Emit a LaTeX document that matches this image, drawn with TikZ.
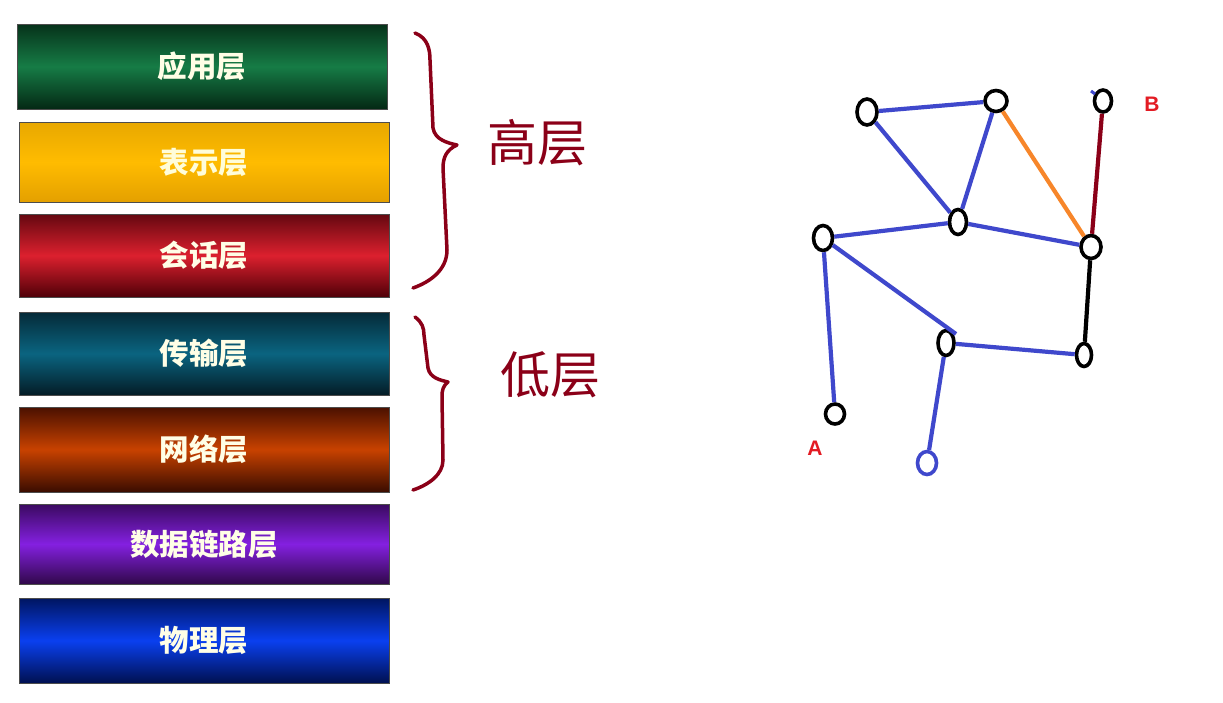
\documentclass[tikz,border=0pt]{standalone}
\usepackage{fontspec}
\newfontfamily\cjk{Noto Sans CJK SC}
\newfontfamily\lab{Liberation Sans}
\usetikzlibrary{shapes.geometric}
\definecolor{edgeblue}{HTML}{3F48CC}
\definecolor{handred}{HTML}{8B0018}
\definecolor{edgeorange}{HTML}{F7862A}
\definecolor{labred}{HTML}{E31B23}
\begin{document}
\begin{tikzpicture}[x=1pt,y=-1pt,
  layer/.style={draw=black!70, line width=0.8pt, minimum width=370pt, inner sep=0pt,
    text=white!90!yellow, font=\cjk\bfseries\fontsize{29.5}{31}\selectfont},
  hand/.style={text=handred, font=\cjk\fontsize{50}{52}\selectfont, inner sep=0pt},
  brace/.style={draw=handred, line width=3.5pt, line cap=round, line join=round},
  gn/.style={ellipse, draw=black, line width=3.6pt, fill=white, inner sep=0pt},
  ed/.style={draw=edgeblue, line width=4.2pt},
  lbl/.style={text=labred, font=\lab\bfseries\fontsize{21}{23}\selectfont, inner sep=0pt}
]
\useasboundingbox[fill=white] (0,0) rectangle (1223,702);

% layer boxes
\node[layer, minimum height=85pt, top color={rgb,255:red,6;green,50;blue,26}, bottom color={rgb,255:red,4;green,40;blue,20}, middle color={rgb,255:red,22;green,124;blue,70}] (l1) at (202,66.5) {应用层};
\node[layer, minimum height=80pt, top color={rgb,255:red,232;green,168;blue,0}, bottom color={rgb,255:red,228;green,160;blue,0}, middle color={rgb,255:red,255;green,188;blue,0}, text=white!85!yellow] (l2) at (204,162) {表示层};
\node[layer, minimum height=83pt, top color={rgb,255:red,100;green,8;blue,16}, bottom color={rgb,255:red,80;green,0;blue,8}, middle color={rgb,255:red,220;green,32;blue,46}] (l3) at (204,255.5) {会话层};
\node[layer, minimum height=83pt, top color={rgb,255:red,5;green,42;blue,56}, bottom color={rgb,255:red,4;green,28;blue,38}, middle color={rgb,255:red,10;green,100;blue,128}] (l4) at (204,353.5) {传输层};
\node[layer, minimum height=85pt, top color={rgb,255:red,74;green,16;blue,0}, bottom color={rgb,255:red,58;green,12;blue,0}, middle color={rgb,255:red,200;green,66;blue,0}] (l5) at (204,449.5) {网络层};
\node[layer, minimum height=80pt, top color={rgb,255:red,58;green,10;blue,96}, bottom color={rgb,255:red,48;green,8;blue,74}, middle color={rgb,255:red,132;green,32;blue,224}] (l6) at (204,544) {数据链路层};
\node[layer, minimum height=85pt, top color={rgb,255:red,0;green,21;blue,96}, bottom color={rgb,255:red,0;green,16;blue,80}, middle color={rgb,255:red,10;green,64;blue,240}] (l7) at (204,640.5) {物理层};

% braces
\draw[brace] (415,33) .. controls (428,38) and (430,50) .. (430,60) -- (433,128)
  .. controls (435,140) and (448,143) .. (457,145)
  .. controls (446,150) and (443,158) .. (443,168) -- (447,250)
  .. controls (447,270) and (430,282) .. (413,288);
\draw[brace] (415,317) .. controls (422,322) and (424,328) .. (424,335) -- (428,368)
  .. controls (430,378) and (440,380) .. (448,382)
  .. controls (443,386) and (442,390) .. (442,397) -- (443,460)
  .. controls (443,475) and (428,485) .. (413,490);
\node[hand] (gao) at (537,143) {高层};
\node[hand] (di) at (550,375) {低层};

% network graph
\node[gn, minimum width=20pt, minimum height=26pt] (n1) at (867,112) {};
\node[gn, minimum width=22pt, minimum height=21pt] (n2) at (996,101) {};
\node[gn, minimum width=17pt, minimum height=22pt] (n3) at (1103,101) {};
\node[gn, minimum width=17pt, minimum height=25pt] (n4) at (958,222) {};
\node[gn, minimum width=19pt, minimum height=25pt] (n5) at (823,238) {};
\node[gn, minimum width=20pt, minimum height=23pt] (n6) at (1091,247) {};
\node[gn, minimum width=16pt, minimum height=25pt] (n7) at (946,343) {};
\node[gn, minimum width=15pt, minimum height=23pt] (n8) at (1084,355) {};
\node[gn, minimum width=19pt, minimum height=20pt] (n9) at (835,414) {};
\node[gn, draw=edgeblue, minimum width=19pt, minimum height=23pt] (n10) at (927,463) {};
\coordinate (c7) at (956,334);
\coordinate (d1) at (1091,91);
\coordinate (d2) at (1095,94);

\draw[ed] (n1) -- (n2);
\draw[ed] (n1) -- (n4);
\draw[ed] (n2) -- (n4);
\draw[ed] (n4) -- (n5);
\draw[ed] (n4) -- (n6);
\draw[ed] (n5) -- (n9);
\draw[ed] (n5) -- (c7);
\draw[ed] (n7) -- (n8);
\draw[ed] (n7) -- (n10);
\draw[ed, line width=3pt] (d1) -- (d2);
\draw[draw=edgeorange, line width=4.2pt] (n2) -- (n6);
\draw[draw=handred, line width=4.2pt] (n3) -- (n6);
\draw[draw=black, line width=4.2pt] (n6) -- (n8);

\node[lbl] (A) at (815,448) {A};
\node[lbl] (B) at (1152,104) {B};
\end{tikzpicture}
\end{document}
